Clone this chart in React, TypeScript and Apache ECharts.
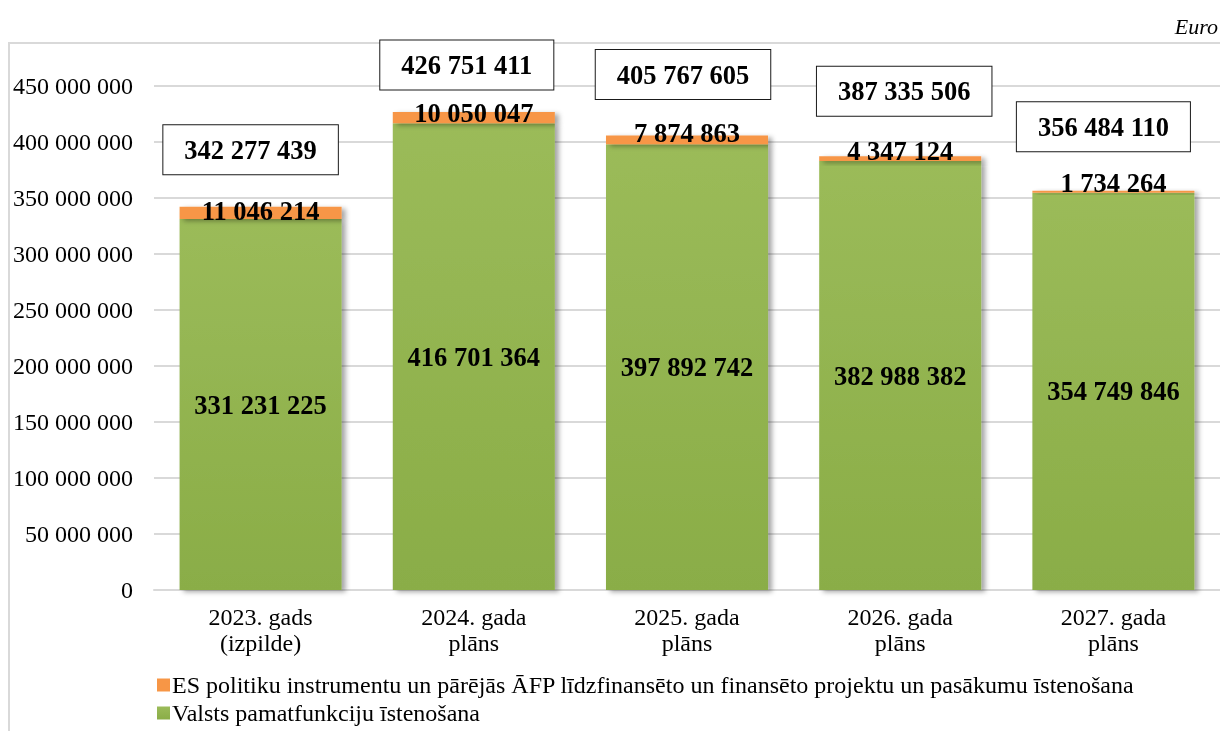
import React, { useEffect, useRef } from "react";
import * as echarts from "echarts";

const categories = ["2023. gads\n(izpilde)", "2024. gada\nplāns", "2025. gada\nplāns", "2026. gada\nplāns", "2027. gada\nplāns"];
const valstsValues = [331231225, 416701364, 397892742, 382988382, 354749846];
const esValues = [11046214, 10050047, 7874863, 4347124, 1734264];
const totals = [342277439, 426751411, 405767605, 387335506, 356484110];
const yTicks = { min: 0, max: 450000000, interval: 50000000 };
const totalLabelOffsets = [[-10, -57], [-7, -47], [-4, -61], [4, -65], [-10, -64]];
const esLabelOffsets = [[0, 4], [0, 0], [0, -3], [0, -6], [0, -8]];
const esName = "ES politiku instrumentu un pārējās ĀFP līdzfinansēto un finansēto projektu un pasākumu īstenošana";
const valstsName = "Valsts pamatfunkciju īstenošana";

const fmt = (v: number) => String(Math.round(v)).replace(/\B(?=(\d{3})+(?!\d))/g, " ");
const FONT = "'Liberation Serif', 'Times New Roman', serif";

export default function App() {
  const ref = useRef<HTMLDivElement>(null);
  useEffect(() => {
    if (!ref.current) return;
    const chart = echarts.init(ref.current, null, { renderer: "svg" });
    const shadow = {
      shadowColor: "rgba(0,0,0,0.35)",
      shadowBlur: 5,
      shadowOffsetX: 4,
      shadowOffsetY: 2,
    };
    chart.setOption({
      animation: false,
      textStyle: { fontFamily: FONT },
      graphic: [
        {
          type: "rect",
          shape: { x: 9, y: 43, width: 1230, height: 720 },
          style: { fill: "none", stroke: "#d9d9d9", lineWidth: 2 },
          silent: true,
        },
        {
          type: "text",
          right: 2,
          top: 15,
          style: { text: "Euro", font: `italic 22px ${FONT}`, fill: "#000" },
        },
      ],
      grid: { left: 154, right: -2, top: 86, bottom: 141, containLabel: false },
      legend: {
        orient: "vertical",
        left: 152,
        top: 668,
        itemWidth: 13,
        itemHeight: 13,
        itemGap: 4,
        icon: "rect",
        data: [esName, valstsName],
        textStyle: { fontFamily: FONT, fontSize: 24, color: "#000", padding: [0, 0, 0, -3] },
      },
      xAxis: {
        type: "category",
        data: categories,
        axisLine: { lineStyle: { color: "#d9d9d9", width: 2 } },
        axisTick: { show: false },
        axisLabel: { fontFamily: FONT, fontSize: 24, color: "#000", lineHeight: 26, margin: 14 },
      },
      yAxis: {
        type: "value",
        min: yTicks.min,
        max: yTicks.max,
        interval: yTicks.interval,
        axisLine: { show: false },
        axisTick: { show: false },
        splitLine: { lineStyle: { color: "#d9d9d9", width: 2 } },
        axisLabel: { fontFamily: FONT, fontSize: 24, color: "#000", margin: 21, formatter: (v: number) => fmt(v) },
      },
      series: [
        {
          name: valstsName,
          type: "bar",
          stack: "total",
          barWidth: "76%",
          data: valstsValues,
          itemStyle: {
            color: new echarts.graphic.LinearGradient(0, 0, 0, 1, [
              { offset: 0, color: "#9bbb59" },
              { offset: 1, color: "#8aad47" },
            ]),
            ...shadow,
          },
          label: {
            show: true,
            position: "inside",
            fontFamily: FONT,
            fontSize: 26.5,
            fontWeight: "bold",
            color: "#000",
            formatter: (p: any) => fmt(p.value),
          },
        },
        {
          name: esName,
          type: "bar",
          stack: "total",
          barWidth: "76%",
          data: esValues.map((v, i) => ({ value: v, label: { offset: esLabelOffsets[i] } })),
          itemStyle: { color: "#f79646", ...shadow },
          label: {
            show: true,
            position: "top",
            distance: -14,
            fontFamily: FONT,
            fontSize: 26.5,
            fontWeight: "bold",
            color: "#000",
            formatter: (p: any) => fmt(p.value),
          },
          z: 3,
        },
        {
          name: "totals",
          type: "scatter",
          symbolSize: 0,
          silent: true,
          itemStyle: { opacity: 1 },
          data: totals.map((v, i) => ({
            value: [i, v],
            label: { offset: totalLabelOffsets[i] },
          })),
          label: {
            show: true,
            position: "inside",
            fontFamily: FONT,
            fontSize: 26.5,
            fontWeight: "bold",
            color: "#000",
            opacity: 1,
            backgroundColor: "#fff",
            borderColor: "#1a1a1a",
            borderWidth: 1,
            padding: [11, 21, 11, 21],
            formatter: (p: any) => fmt(p.value[1]),
          },
          z: 5,
        },
      ],
    });
    return () => chart.dispose();
  }, []);
  return <div ref={ref} style={{ position: "fixed", left: 0, top: 0, width: 1220, height: 731 }} />;
}
